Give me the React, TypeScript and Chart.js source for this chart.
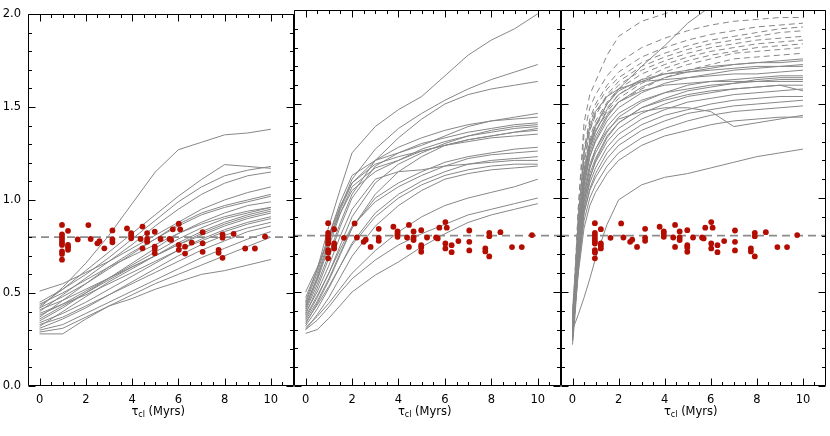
import React, { useEffect, useRef } from "react";
import { Chart, registerables } from "chart.js";

Chart.register(...registerables);

// ---------- data ----------
const X_MIN = -0.5;
const X_MAX = 11;
const Y_MIN = 0;
const Y_MAX = 2;
const X_TICK_LABELS = [0, 2, 4, 6, 8, 10];
const Y_TICK_LABELS = [0, 0.5, 1.0, 1.5, 2.0];
const REF_Y = 0.8;

// observed points (same in every panel)
const OBS_X = [
  0.97, 0.97, 0.97, 0.97, 0.97, 0.97, 0.97, 0.97, 0.97,
  1.23, 1.23, 1.23, 1.23, 1.65, 2.11, 2.21, 2.5, 2.59, 2.8,
  3.15, 3.15, 3.15, 3.78, 3.96, 3.96, 3.96, 4.37, 4.45, 4.45,
  4.65, 4.65, 4.65, 4.98, 4.98, 4.98, 4.98, 5.23, 5.62, 5.69, 5.76,
  6.02, 6.08, 6.02, 6.02, 6.29, 6.29, 6.58, 7.05, 7.05, 7.05,
  7.74, 7.74, 7.91, 7.91, 7.91, 8.39, 8.89, 9.31, 9.75,
];
const OBS_Y = [
  0.866, 0.815, 0.8, 0.785, 0.77, 0.758, 0.723, 0.71, 0.679,
  0.834, 0.758, 0.746, 0.732, 0.788, 0.865, 0.79, 0.767, 0.778, 0.74,
  0.836, 0.788, 0.772, 0.847, 0.822, 0.81, 0.794, 0.79, 0.857, 0.74,
  0.822, 0.79, 0.776, 0.829, 0.749, 0.737, 0.714, 0.79, 0.79, 0.785, 0.842,
  0.872, 0.842, 0.758, 0.732, 0.749, 0.712, 0.771, 0.827, 0.767, 0.721,
  0.732, 0.716, 0.815, 0.797, 0.689, 0.818, 0.739, 0.739, 0.803,
];

// panel 1 model tracks
const GRID_A = [0, 1, 2, 3, 4, 5, 6, 7, 8, 9, 10];
const TRACKS_A = [
  [0.42, 0.53, 0.66, 0.81, 0.98, 1.15, 1.27, 1.31, 1.35, 1.36, 1.38],
  [0.43, 0.52, 0.62, 0.72, 0.82, 0.92, 1.02, 1.11, 1.19, 1.18, 1.17],
  [0.45, 0.52, 0.6, 0.69, 0.79, 0.89, 0.99, 1.07, 1.13, 1.16, 1.18],
  [0.4, 0.49, 0.58, 0.67, 0.76, 0.86, 0.95, 1.03, 1.09, 1.13, 1.15],
  [0.51, 0.55, 0.61, 0.67, 0.74, 0.81, 0.88, 0.95, 1.0, 1.04, 1.07],
  [0.42, 0.48, 0.55, 0.63, 0.71, 0.79, 0.87, 0.93, 0.97, 1.0, 1.03],
  [0.37, 0.46, 0.55, 0.64, 0.72, 0.79, 0.86, 0.92, 0.96, 0.99, 1.02],
  [0.38, 0.44, 0.51, 0.58, 0.66, 0.74, 0.82, 0.88, 0.93, 0.97, 0.99],
  [0.44, 0.5, 0.57, 0.64, 0.7, 0.76, 0.82, 0.87, 0.91, 0.94, 0.96],
  [0.35, 0.42, 0.5, 0.58, 0.65, 0.72, 0.79, 0.85, 0.9, 0.93, 0.96],
  [0.32, 0.4, 0.48, 0.56, 0.63, 0.7, 0.77, 0.83, 0.88, 0.92, 0.95],
  [0.36, 0.43, 0.5, 0.57, 0.64, 0.7, 0.76, 0.82, 0.87, 0.91, 0.94],
  [0.41, 0.46, 0.52, 0.58, 0.64, 0.7, 0.76, 0.81, 0.86, 0.9, 0.93],
  [0.34, 0.39, 0.45, 0.52, 0.59, 0.66, 0.73, 0.79, 0.84, 0.88, 0.91],
  [0.39, 0.44, 0.49, 0.55, 0.61, 0.67, 0.73, 0.78, 0.83, 0.87, 0.9],
  [0.31, 0.36, 0.42, 0.49, 0.56, 0.63, 0.7, 0.76, 0.81, 0.85, 0.88],
  [0.33, 0.37, 0.43, 0.49, 0.55, 0.61, 0.67, 0.73, 0.78, 0.83, 0.86],
  [0.3, 0.33, 0.39, 0.45, 0.51, 0.57, 0.63, 0.69, 0.74, 0.79, 0.83],
  [0.29, 0.31, 0.37, 0.43, 0.49, 0.55, 0.6, 0.65, 0.7, 0.75, 0.8],
  [0.28, 0.28, 0.36, 0.43, 0.47, 0.52, 0.56, 0.6, 0.62, 0.65, 0.68],
];

// panel 2 model tracks
const GRID_B = [0, 0.5, 1, 1.5, 2, 3, 4, 5, 6, 7, 8, 9, 10];
const TRACKS_B = [
  [0.45, 0.62, 0.85, 1.05, 1.24, 1.38, 1.47, 1.54, 1.65, 1.76, 1.84, 1.9, 1.98],
  [0.42, 0.58, 0.78, 0.95, 1.1, 1.26, 1.37, 1.45, 1.52, 1.58, 1.63, 1.67, 1.71],
  [0.4, 0.54, 0.7, 0.87, 1.02, 1.2, 1.32, 1.42, 1.5, 1.55, 1.58, 1.6, 1.62],
  [0.44, 0.6, 0.8, 0.98, 1.12, 1.2, 1.24, 1.28, 1.33, 1.38, 1.41, 1.43, 1.45],
  [0.38, 0.52, 0.68, 0.85, 1.0, 1.17, 1.24, 1.29, 1.32, 1.35, 1.37, 1.39, 1.4],
  [0.41, 0.56, 0.74, 0.92, 1.06, 1.16, 1.2, 1.26, 1.3, 1.33, 1.36, 1.38, 1.39],
  [0.36, 0.47, 0.6, 0.75, 0.9, 1.08, 1.18, 1.24, 1.29, 1.33, 1.35, 1.37, 1.38],
  [0.43, 0.57, 0.76, 0.94, 1.08, 1.18, 1.22, 1.25, 1.28, 1.31, 1.33, 1.35, 1.36],
  [0.33, 0.44, 0.56, 0.7, 0.84, 1.02, 1.14, 1.22, 1.28, 1.31, 1.33, 1.35, 1.37],
  [0.39, 0.5, 0.64, 0.8, 0.94, 1.1, 1.14, 1.15, 1.17, 1.18, 1.19, 1.2, 1.2],
  [0.35, 0.45, 0.57, 0.71, 0.84, 1.0, 1.08, 1.14, 1.19, 1.22, 1.24, 1.26, 1.27],
  [0.37, 0.48, 0.6, 0.73, 0.85, 0.98, 1.06, 1.12, 1.17, 1.21, 1.23, 1.24, 1.25],
  [0.32, 0.41, 0.52, 0.64, 0.76, 0.92, 1.02, 1.09, 1.14, 1.18, 1.2, 1.21, 1.22],
  [0.34, 0.43, 0.53, 0.64, 0.75, 0.9, 1.0, 1.07, 1.12, 1.15, 1.17, 1.18, 1.18],
  [0.3, 0.38, 0.47, 0.58, 0.69, 0.85, 0.96, 1.04, 1.1, 1.13, 1.15, 1.16, 1.17],
  [0.31, 0.37, 0.44, 0.52, 0.6, 0.72, 0.82, 0.9, 0.96, 1.0, 1.03, 1.06, 1.1],
  [0.3, 0.35, 0.42, 0.5, 0.57, 0.67, 0.75, 0.81, 0.86, 0.91, 0.94, 0.97, 1.0],
  [0.28, 0.3, 0.36, 0.43, 0.5, 0.59, 0.66, 0.74, 0.81, 0.87, 0.91, 0.94, 0.97],
  [0.47, 0.62, 0.8, 0.96, 1.08, 1.2, 1.27, 1.32, 1.36, 1.39, 1.41, 1.42, 1.43],
  [0.5, 0.63, 0.78, 0.92, 1.04, 1.14, 1.2, 1.25, 1.28, 1.3, 1.32, 1.33, 1.34],
];

// panel 3 model tracks (solid and dashed)
const GRID_C = [0, 0.1, 0.25, 0.5, 0.75, 1, 1.5, 2, 3, 4, 5, 6, 7, 8, 9, 10];
const TRACKS_C_SOLID = [
  [0.3, 0.33, 0.38, 0.47, 0.57, 0.68, 0.86, 0.99, 1.07, 1.11, 1.13, 1.16, 1.19, 1.22, 1.24, 1.26],
  [0.28, 0.4, 0.6, 0.84, 0.96, 1.03, 1.13, 1.2, 1.28, 1.33, 1.36, 1.39, 1.41, 1.42, 1.43, 1.43],
  [0.26, 0.4, 0.62, 0.88, 1.0, 1.07, 1.17, 1.24, 1.32, 1.37, 1.41, 1.44, 1.46, 1.47, 1.48, 1.49],
  [0.32, 0.45, 0.66, 0.92, 1.04, 1.11, 1.21, 1.28, 1.36, 1.41, 1.45, 1.47, 1.49, 1.5, 1.51, 1.52],
  [0.25, 0.4, 0.64, 0.92, 1.05, 1.13, 1.24, 1.31, 1.39, 1.44, 1.47, 1.5, 1.52, 1.53, 1.54, 1.54],
  [0.3, 0.44, 0.67, 0.95, 1.08, 1.16, 1.27, 1.34, 1.42, 1.47, 1.51, 1.53, 1.55, 1.56, 1.57, 1.58],
  [0.35, 0.48, 0.7, 0.98, 1.11, 1.19, 1.3, 1.37, 1.45, 1.5, 1.54, 1.56, 1.58, 1.59, 1.6, 1.6],
  [0.28, 0.43, 0.68, 0.98, 1.13, 1.21, 1.33, 1.4, 1.48, 1.53, 1.57, 1.59, 1.61, 1.62, 1.63, 1.63],
  [0.33, 0.48, 0.72, 1.02, 1.16, 1.24, 1.35, 1.43, 1.51, 1.56, 1.6, 1.62, 1.63, 1.64, 1.65, 1.65],
  [0.3, 0.46, 0.72, 1.04, 1.18, 1.26, 1.36, 1.42, 1.46, 1.48, 1.48, 1.46, 1.38, 1.4, 1.42, 1.44],
  [0.36, 0.52, 0.78, 1.08, 1.22, 1.3, 1.41, 1.48, 1.56, 1.61, 1.64, 1.66, 1.68, 1.69, 1.7, 1.71],
  [0.27, 0.44, 0.74, 1.06, 1.22, 1.31, 1.43, 1.51, 1.59, 1.64, 1.67, 1.69, 1.71, 1.72, 1.73, 1.74],
  [0.31, 0.48, 0.78, 1.1, 1.26, 1.35, 1.47, 1.55, 1.62, 1.66, 1.68, 1.7, 1.71, 1.72, 1.72, 1.73],
  [0.34, 0.52, 0.82, 1.14, 1.3, 1.39, 1.5, 1.57, 1.63, 1.66, 1.67, 1.68, 1.69, 1.7, 1.7, 1.7],
  [0.29, 0.46, 0.76, 1.08, 1.24, 1.33, 1.44, 1.51, 1.57, 1.6, 1.61, 1.62, 1.62, 1.62, 1.62, 1.62],
  [0.38, 0.54, 0.8, 1.12, 1.28, 1.38, 1.5, 1.58, 1.7, 1.81, 1.93, 2.02, 2.06, 2.08, 2.1, 2.12],
  [0.24, 0.4, 0.68, 1.0, 1.16, 1.26, 1.38, 1.45, 1.52, 1.56, 1.58, 1.6, 1.61, 1.63, 1.64, 1.64],
  [0.4, 0.58, 0.9, 1.24, 1.38, 1.46, 1.54, 1.58, 1.62, 1.63, 1.64, 1.65, 1.66, 1.66, 1.67, 1.68],
  [0.22, 0.36, 0.62, 0.94, 1.1, 1.2, 1.32, 1.4, 1.48, 1.52, 1.55, 1.57, 1.58, 1.59, 1.6, 1.57],
];
const TRACKS_C_DASHED = [
  [0.3, 0.55, 0.95, 1.4, 1.55, 1.62, 1.76, 1.86, 1.94, 1.98, 2.02, 2.05, 2.07, 2.08, 2.09, 2.1],
  [0.35, 0.58, 0.94, 1.34, 1.48, 1.55, 1.65, 1.72, 1.8, 1.85, 1.89, 1.92, 1.94, 1.95, 1.96, 1.96],
  [0.28, 0.5, 0.86, 1.26, 1.42, 1.5, 1.6, 1.67, 1.75, 1.8, 1.84, 1.87, 1.89, 1.91, 1.92, 1.93],
  [0.32, 0.52, 0.88, 1.24, 1.4, 1.48, 1.58, 1.64, 1.72, 1.77, 1.81, 1.84, 1.86, 1.88, 1.9, 1.91],
  [0.26, 0.48, 0.82, 1.18, 1.36, 1.45, 1.55, 1.62, 1.7, 1.75, 1.79, 1.82, 1.84, 1.86, 1.88, 1.89],
  [0.3, 0.5, 0.84, 1.2, 1.36, 1.44, 1.54, 1.6, 1.68, 1.73, 1.77, 1.8, 1.82, 1.84, 1.85, 1.86],
  [0.24, 0.46, 0.8, 1.15, 1.32, 1.41, 1.51, 1.58, 1.66, 1.71, 1.75, 1.78, 1.8, 1.82, 1.83, 1.84],
  [0.34, 0.52, 0.82, 1.14, 1.3, 1.38, 1.48, 1.55, 1.63, 1.69, 1.73, 1.76, 1.78, 1.8, 1.81, 1.82],
  [0.28, 0.47, 0.78, 1.1, 1.27, 1.36, 1.46, 1.53, 1.61, 1.67, 1.71, 1.74, 1.77, 1.78, 1.79, 1.8],
  [0.31, 0.5, 0.8, 1.12, 1.28, 1.36, 1.45, 1.51, 1.58, 1.64, 1.68, 1.71, 1.74, 1.75, 1.76, 1.77],
];

// ---------- style ----------
const W = 830;
const H = 436;
const FONT = "DejaVu Sans";
const LINE_COLOR = "rgb(135,135,135)";
const DOT_COLOR = "#b30d02";
const PANELS = [
  { left: 28, right: 294 },
  { left: 294, right: 561 },
  { left: 561, right: 828 },
];
const TOP = 10;
const BOTTOM = 386;

const frameTicks = {
  id: "frameTicks",
  afterDraw(chart: any) {
    const { ctx, chartArea: a, scales } = chart;
    const xs = scales.x;
    const ys = scales.y;
    ctx.save();
    ctx.strokeStyle = "#000";
    ctx.lineWidth = 1;
    const L = Math.round(a.left) + 0.5;
    const R = Math.round(a.right) - 0.5;
    const T = Math.round(a.top) + 0.5;
    const B = Math.round(a.bottom) - 0.5;
    ctx.beginPath();
    ctx.rect(L, T, R - L, B - T);
    for (let i = 0; i <= 20; i++) {
      const v = i / 10;
      const p = Math.round(ys.getPixelForValue(v)) + 0.5;
      const len = i % 5 === 0 ? 7 : 3.5;
      ctx.moveTo(L, p);
      ctx.lineTo(L + len, p);
      ctx.moveTo(R, p);
      ctx.lineTo(R - len, p);
    }
    for (let i = 0; i <= 21; i++) {
      const v = i / 2;
      const p = Math.round(xs.getPixelForValue(v)) + 0.5;
      const len = i % 4 === 0 ? 7 : 3.5;
      ctx.moveTo(p, B);
      ctx.lineTo(p, B - len);
      ctx.moveTo(p, T);
      ctx.lineTo(p, T + len);
    }
    ctx.stroke();

    const big = `11.5px '${FONT}'`;
    const small = `8px '${FONT}'`;
    ctx.fillStyle = "#000";
    ctx.textBaseline = "alphabetic";
    ctx.textAlign = "left";
    ctx.font = big;
    const wTau = ctx.measureText("τ").width;
    const wRest = ctx.measureText(" (Myrs)").width;
    ctx.font = small;
    const wSub = ctx.measureText("cl").width;
    const total = wTau + wSub + wRest;
    const cx = (xs.getPixelForValue(0) + xs.getPixelForValue(10)) / 2 + 3;
    let x = cx - total / 2;
    const base = 415;
    ctx.font = big;
    ctx.fillText("τ", x, base);
    x += wTau;
    ctx.font = small;
    ctx.fillText("cl", x, base + 2);
    x += wSub;
    ctx.font = big;
    ctx.fillText(" (Myrs)", x, base);
    ctx.restore();
  },
};

function makeConfig(index: number, grid: number[], solid: number[][], dashed: number[][]) {
  const panel = PANELS[index];
  const datasets: any[] = [];
  datasets.push({
    data: OBS_X.map((x, i) => ({ x, y: OBS_Y[i] })),
    showLine: false,
    pointRadius: 2.9,
    pointBackgroundColor: DOT_COLOR,
    pointBorderWidth: 0,
    order: 0,
  });
  datasets.push({
    data: [
      { x: X_MIN, y: REF_Y },
      { x: X_MAX, y: REF_Y },
    ],
    showLine: true,
    borderColor: "rgb(140,140,140)",
    borderWidth: 1.6,
    borderDash: [8, 5],
    pointRadius: 0,
    order: 1,
  });
  solid.forEach((row) => {
    datasets.push({
      data: grid.map((x, i) => ({ x, y: row[i] })),
      showLine: true,
      borderColor: LINE_COLOR,
      borderWidth: 1,
      pointRadius: 0,
      tension: 0,
      order: 2,
    });
  });
  dashed.forEach((row) => {
    datasets.push({
      data: grid.map((x, i) => ({ x, y: row[i] })),
      showLine: true,
      borderColor: LINE_COLOR,
      borderWidth: 1,
      borderDash: [6, 4],
      pointRadius: 0,
      tension: 0,
      order: 2,
    });
  });
  const showY = index === 0;
  return {
    type: "scatter",
    data: { datasets },
    plugins: [frameTicks],
    options: {
      responsive: false,
      animation: false,
      events: [],
      layout: {
        padding: {
          left: showY ? 0 : panel.left,
          right: W - panel.right,
          top: TOP,
          bottom: 0,
        },
      },
      plugins: { legend: { display: false }, tooltip: { enabled: false } },
      scales: {
        x: {
          type: "linear",
          min: X_MIN,
          max: X_MAX,
          grid: { display: false, drawTicks: false },
          border: { display: false },
          afterBuildTicks: (s: any) => {
            s.ticks = X_TICK_LABELS.map((v) => ({ value: v }));
          },
          afterFit: (s: any) => {
            s.height = H - BOTTOM;
          },
          ticks: {
            padding: 7,
            color: "#000",
            maxRotation: 0,
            autoSkip: false,
            font: { family: FONT, size: 11.5 },
            callback: (v: any) => String(v),
          },
        },
        y: {
          type: "linear",
          min: Y_MIN,
          max: Y_MAX,
          display: showY,
          grid: { display: false, drawTicks: false },
          border: { display: false },
          afterBuildTicks: (s: any) => {
            s.ticks = Y_TICK_LABELS.map((v) => ({ value: v }));
          },
          afterFit: (s: any) => {
            s.width = showY ? panel.left : 0;
          },
          ticks: {
            padding: 7,
            color: "#000",
            autoSkip: false,
            font: { family: FONT, size: 11.5 },
            callback: (v: any) => Number(v).toFixed(1),
          },
        },
      },
    },
  } as any;
}

function Panel({ index, grid, solid, dashed }: { index: number; grid: number[]; solid: number[][]; dashed: number[][] }) {
  const ref = useRef<HTMLCanvasElement | null>(null);
  useEffect(() => {
    if (!ref.current) return;
    const chart = new Chart(ref.current, makeConfig(index, grid, solid, dashed));
    return () => chart.destroy();
  }, [index, grid, solid, dashed]);
  return (
    <canvas
      ref={ref}
      width={W}
      height={H}
      style={{ position: "absolute", left: 0, top: 0, width: W, height: H }}
    />
  );
}

export default function App() {
  return (
    <div style={{ position: "absolute", left: 0, top: 0, width: W, height: H, background: "#fff", overflow: "hidden" }}>
      <Panel index={0} grid={GRID_A} solid={TRACKS_A} dashed={[]} />
      <Panel index={1} grid={GRID_B} solid={TRACKS_B} dashed={[]} />
      <Panel index={2} grid={GRID_C} solid={TRACKS_C_SOLID} dashed={TRACKS_C_DASHED} />
    </div>
  );
}
